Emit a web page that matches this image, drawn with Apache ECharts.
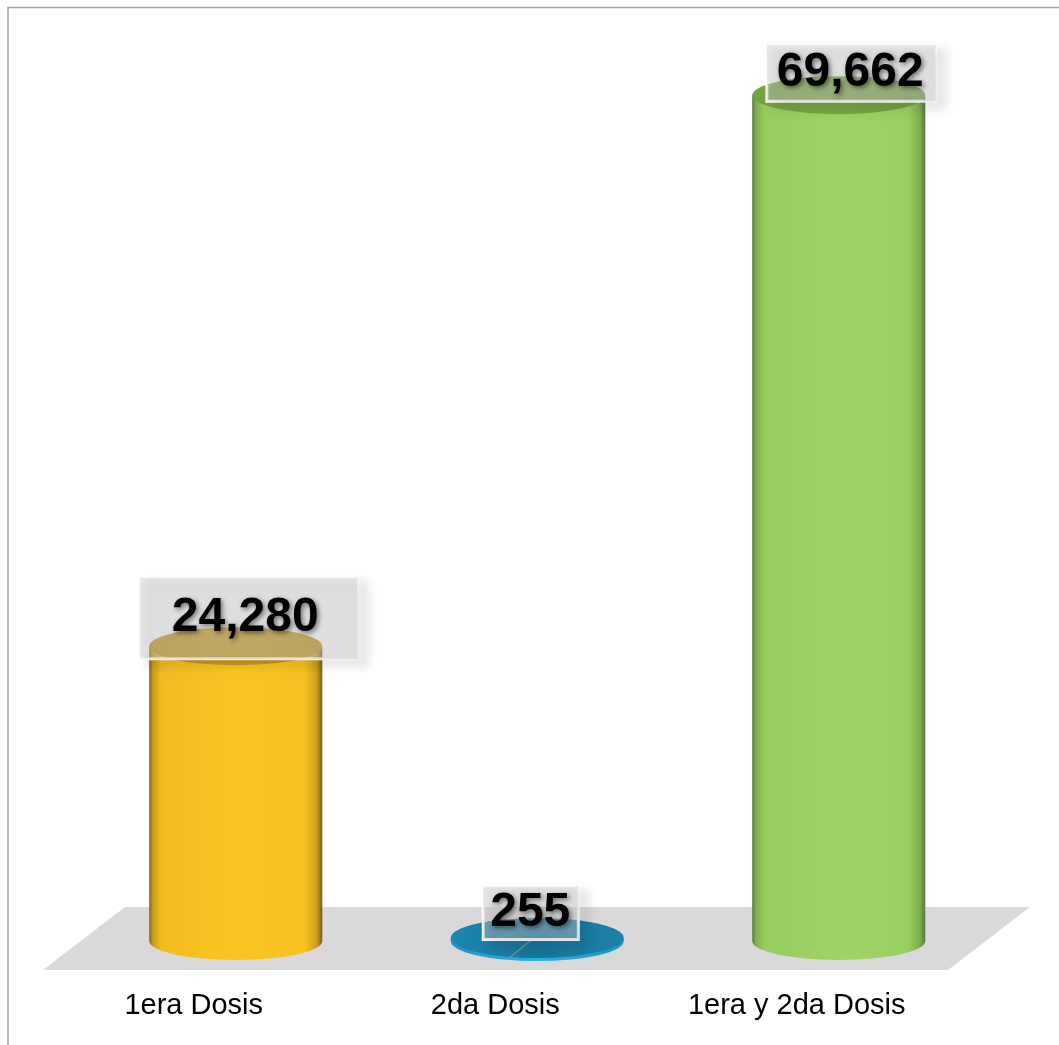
<!DOCTYPE html>
<html>
<head>
<meta charset="utf-8">
<script src="https://cdn.jsdelivr.net/npm/echarts@6/dist/echarts.min.js"></script>
<style>
html,body{margin:0;padding:0;background:#fff;}
#chart{width:1059px;height:1045px;}
</style>
</head>
<body>
<div id="chart"></div>
<script>
// ---- data ----
const categories = ['1era Dosis', '2da Dosis', '1era y 2da Dosis'];
const values = [24280, 255, 69662];
const valueLabels = ['24,280', '255', '69,662'];

// ---- styles ----
const bodyStops = [
  [[0,'#7E6216'],[0.02,'#C99C1A'],[0.07,'#F2BC21'],[0.5,'#FAC523'],[0.9,'#F7C122'],[0.97,'#CC9C1E'],[1,'#6E5A22']],
  [[0,'#1F94C4'],[0.5,'#2AB0E3'],[1,'#1F94C4']],
  [[0,'#5C783C'],[0.02,'#7FAE4C'],[0.07,'#98CC5E'],[0.5,'#9ED264'],[0.9,'#9BCF61'],[0.97,'#7FAD4F'],[1,'#5A743C']]
];
const topColors = [
  [[0,'#BF9118'],[0.5,'#C99A1C'],[1,'#BF9118']],
  [[0,'#1C88B0'],[0.5,'#17739A'],[1,'#1C82A9']],
  [[0,'#74A242'],[0.5,'#79A845'],[1,'#719D41']]
];
const labelPadding = [[15,39,18,32],[0,8,5,7],[2,12,6,10]];
const labelShift = [[13,-28],[-6.5,-25],[12.5,-22]];

const chart = echarts.init(document.getElementById('chart'));

function stopsToGrad(st){
  return new echarts.graphic.LinearGradient(0,0,1,0, st.map(s=>({offset:s[0], color:s[1]})));
}

function renderItem(params, api){
  const idx = api.value(0);
  const v = api.value(1);
  const top = api.coord([idx, v]);
  const base = api.coord([idx, 0]);
  const bw = api.size([1,0])[0] * 0.574;
  const rx = bw/2, ry = idx === 1 ? 20 : 19;
  const cx = top[0];
  const ty = top[1], by = base[1];
  const bodyPath = 'M' + (cx-rx) + ' ' + by + ' L' + (cx-rx) + ' ' + ty +
    ' L' + (cx+rx) + ' ' + ty + ' L' + (cx+rx) + ' ' + by +
    ' A' + rx + ' ' + ry + ' 0 0 1 ' + (cx-rx) + ' ' + by + ' Z';
  const topPath = 'M' + (cx-rx) + ' ' + ty +
    ' A' + rx + ' ' + ry + ' 0 1 0 ' + (cx+rx) + ' ' + ty +
    ' A' + rx + ' ' + ry + ' 0 1 0 ' + (cx-rx) + ' ' + ty + ' Z';
  const lx = cx + labelShift[idx][0], ly = ty + labelShift[idx][1];
  const children = [
    { type:'path', shape:{pathData: bodyPath}, style:{fill: stopsToGrad(bodyStops[idx])} },
    { type:'path', shape:{pathData: topPath}, style:{fill: stopsToGrad(topColors[idx])} }
  ];
  if (idx === 1) {
    children.push({ type:'line', shape:{x1: cx-27, y1: by+16, x2: cx-7, y2: by}, style:{stroke:'#8a8a8a', lineWidth:1.5} });
  }
  children.push({
    type:'text',
    style:{
      text: valueLabels[idx],
      x: lx, y: ly,
      align:'center', verticalAlign:'middle',
      font: 'bold 48px "Liberation Sans", Arial, sans-serif',
      fill:'#000',
      textShadowColor:'rgba(0,0,0,0.5)', textShadowBlur:5, textShadowOffsetX:2, textShadowOffsetY:2,
      backgroundColor:'rgba(200,200,200,0.42)',
      borderColor:'rgba(255,255,255,0.95)', borderWidth:1.5,
      padding: labelPadding[idx],
      shadowColor:'rgba(0,0,0,0.16)', shadowBlur:10, shadowOffsetX:8, shadowOffsetY:6
    }
  });
  return { type:'group', children };
}

const option = {
  backgroundColor:'#fff',
  animation:false,
  graphic:[
    { type:'polyline', z:-10, shape:{points:[[8,1045],[8,7.5],[1059,7.5]]}, style:{stroke:'#A6A6A6', lineWidth:1.5, fill:null} },
    { type:'polygon', z:-10, shape:{points:[[125,907],[1030,907],[948,970],[43,970]]}, style:{fill:'#DAD9D9'} }
  ],
  grid:{ left:85, width:904.5, top:0, bottom:104, outerBoundsMode:'none', containLabel:false },
  xAxis:{
    type:'category', data:categories,
    axisLine:{show:false}, axisTick:{show:false}, splitLine:{show:false},
    axisLabel:{ interval:0, margin:50, color:'#000', fontSize:29, fontFamily:'"Liberation Sans", Arial, sans-serif', padding:[0,84,0,0] }
  },
  yAxis:{ type:'value', min:0, max:77500, show:false },
  series:[{
    type:'custom',
    renderItem: renderItem,
    data: values.map((v,i)=>[i, v]),
    clip:false,
    z:5
  }]
};
chart.setOption(option);
</script>
</body>
</html>
